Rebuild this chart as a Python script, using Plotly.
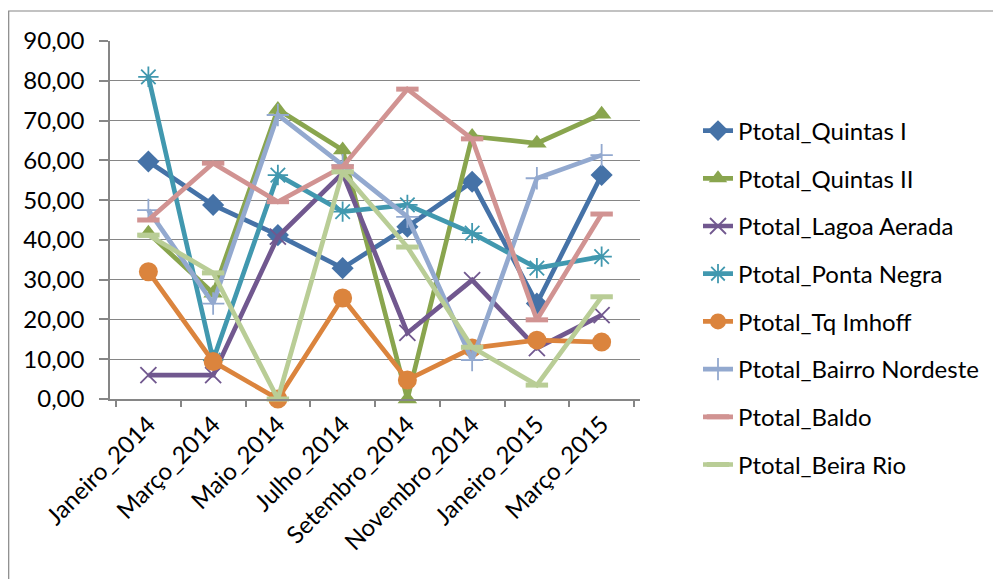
import plotly.graph_objects as go

categories = ["Janeiro_2014", "Março_2014", "Maio_2014", "Julho_2014",
              "Setembro_2014", "Novembro_2014", "Janeiro_2015", "Março_2015"]

quintas_i = [59.7, 48.8, 41.2, 32.9, 43.3, 54.6, 24.0, 56.3]
quintas_ii = [41.7, 26.6, 72.8, 62.6, 0.0, 66.0, 64.3, 71.6]
lagoa_aerada = [6.0, 6.0, 40.8, 56.8, 16.6, 29.9, 12.8, 21.1]
ponta_negra = [81.0, 9.8, 56.3, 47.1, 48.8, 41.7, 32.9, 35.8]
tq_imhoff = [32.0, 9.4, 0.0, 25.4, 4.8, 12.8, 14.8, 14.3]
bairro_nordeste = [47.5, 24.0, 71.4, 58.8, 45.8, 9.8, 55.5, 61.3]
baldo = [45.0, 59.3, 49.6, 58.4, 77.9, 65.4, 19.9, 46.5]
beira_rio = [41.2, 31.7, 0.0, 57.1, 38.2, 13.0, 3.5, 25.7]

series = [
    ("Ptotal_Quintas I", quintas_i, "#4572A7", "diamond", 17, 0),
    ("Ptotal_Quintas II", quintas_ii, "#89A54E", "triangle-up", 17, 0),
    ("Ptotal_Lagoa Aerada", lagoa_aerada, "#71588F", "x-thin-open", 16, 1.8),
    ("Ptotal_Ponta Negra", ponta_negra, "#4198AF", "asterisk-open", 17, 1.8),
    ("Ptotal_Tq Imhoff", tq_imhoff, "#DB843D", "circle", 19, 0),
    ("Ptotal_Bairro Nordeste", bairro_nordeste, "#93A9CF", "cross-thin-open", 16, 1.8),
    ("Ptotal_Baldo", baldo, "#D19392", "line-ew-open", 16, 5),
    ("Ptotal_Beira Rio", beira_rio, "#B9CD96", "line-ew-open", 16, 5),
]

fig = go.Figure()
for i, (name, vals, color, sym, size, lw) in enumerate(series):
    fig.add_trace(go.Scatter(
        x=categories, y=vals, name=name, mode="lines+markers",
        line=dict(color=color, width=4.7),
        marker=dict(symbol=sym, size=size, color=color,
                    line=dict(color=color, width=lw)),
        cliponaxis=False, legendgroup=f"g{i}",
    ))

# the html page adds an 8px body margin, so the figure is 8px smaller
W, H = 993, 571
ML, MR, MT, MB = 102, 361, 33, 180
PW, PH = W - ML - MR, H - MT - MB

fig.update_layout(
    width=W, height=H,
    margin=dict(l=ML, r=MR, t=MT, b=MB, autoexpand=False),
    paper_bgcolor="white", plot_bgcolor="white",
    separators=", ",
    font=dict(family="Lato, 'Open Sans', sans-serif", size=24, color="black"),
    showlegend=True,
    legend=dict(xref="container", yref="container",
                x=690 / W, y=1 - 100.5 / H, xanchor="left", yanchor="top",
                font=dict(size=24), tracegroupgap=13.5, maxheight=1000,
                bgcolor="rgba(0,0,0,0)"),
    xaxis=dict(type="category", showgrid=False, showline=True,
               linecolor="#868686", linewidth=1.5, automargin=False,
               ticks="outside", tickson="boundaries", ticklen=6,
               tickcolor="#868686", tickwidth=1.5, tickangle=-45,
               tickfont=dict(size=24)),
    yaxis=dict(range=[0, 90], dtick=10, tickformat=".2f",
               showgrid=True, gridcolor="#868686", gridwidth=1.4,
               showline=True, linecolor="#868686", linewidth=1.5,
               automargin=False,
               ticks="outside", ticklen=9, tickcolor="#868686", tickwidth=1.5,
               ticklabelstandoff=10,
               zeroline=False, tickfont=dict(size=24)),
    shapes=[dict(type="rect", xref="paper", yref="paper",
                 x0=(0.7 - ML) / PW, x1=(W + 10 - ML) / PW,
                 y0=-(H + 10 - MT - PH) / PH, y1=(MT + PH - 3) / PH,
                 line=dict(color="#868686", width=1.2),
                 fillcolor="rgba(0,0,0,0)", layer="below")],
)

fig.write_html("out.html")
